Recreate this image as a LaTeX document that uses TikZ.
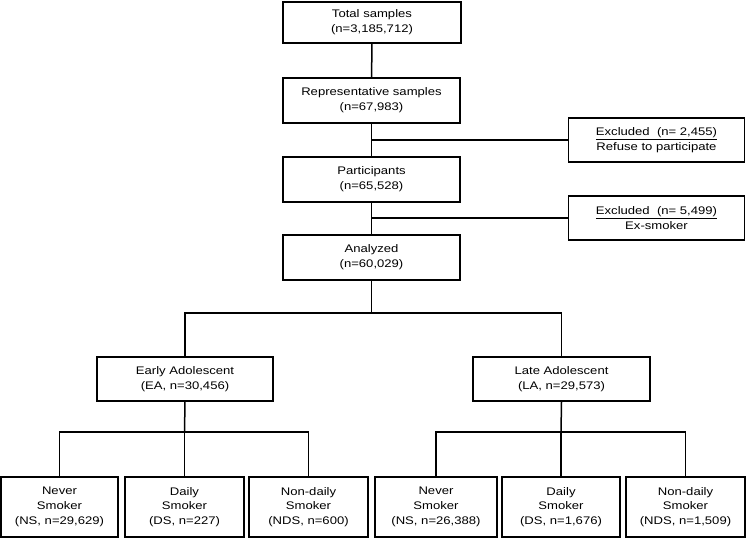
\documentclass[tikz,border=0pt]{standalone}
\usepackage{fontspec}
\setmainfont{Liberation Sans}[FakeStretch=1.19]
\usepackage{tikz}

\begin{document}
\begin{tikzpicture}[x=1pt,y=-1pt,line width=1.5pt,
   blk/.style n args={2}{draw,rectangle,align=center,inner sep=1pt,minimum width=#1pt,minimum height=#2pt,font=\fontsize{11}{14.8}\selectfont}]
\useasboundingbox (0,0) rectangle (746,538);
% main column
\node[blk={178}{41}] (total) at (372,22.5) {Total samples\\(n=3,185,712)};
\node[blk={177}{45}] (rep) at (371.5,100.5) {Representative samples\\(n=67,983)};
\node[blk={177}{45}] (part) at (371.5,179.5) {Participants\\(n=65,528)};
\node[blk={177}{45}] (anal) at (371.5,257.5) {Analyzed\\(n=60,029)};
% exclusions
\node[blk={176}{44}] (exc1) at (656.5,140) {\underline{Excluded\ \ (n= 2,455)}\\Refuse to participate};
\node[blk={176}{44}] (exc2) at (656.5,218) {\underline{Excluded\ \ (n= 5,499)}\\Ex-smoker};
% age groups
\node[blk={176}{44}] (ea) at (185,379) {Early Adolescent\\(EA, n=30,456)};
\node[blk={177}{44}] (la) at (561.5,379) {Late Adolescent\\(LA, n=29,573)};
% smoking status
\foreach \n/\x/\w/\t in %
{ns1/59.5/117/{Never\\Smoker\\(NS, n=29,629)},ds1/184.5/119/{Daily\\Smoker\\(DS, n=227)},
 nds1/308.5/119/{Non-daily\\Smoker\\(NDS, n=600)},ns2/436/122/{Never\\Smoker\\(NS, n=26,388)},
 ds2/561/118/{Daily\\Smoker\\(DS, n=1,676)},nds2/685.5/119/{Non-daily\\Smoker\\(NDS, n=1,509)}} {
   \node[blk={\w}{60}] (\n) at (\x,507) {\t};
}
\coordinate (split) at (371.5,313);
\coordinate (easplit) at (184.5,432);
\coordinate (lasplit) at (561,432);

\draw (total) -- (rep);
\draw (rep) -- (part);
\draw (part) -- (anal);
\draw (rep.south |- exc1.west) -- (exc1.west);
\draw (part.south |- exc2.west) -- (exc2.west);
\draw (anal) -- (split);
\draw (ea.north) |- (split) -| (la.north);
\draw (ea.south) -- (easplit);
\draw (ns1.north) |- (easplit) -| (nds1.north);
\draw (easplit) -- (ds1.north);
\draw (la.south) -- (lasplit);
\draw (ns2.north) |- (lasplit) -| (nds2.north);
\draw (lasplit) -- (ds2.north);
\end{tikzpicture}
\end{document}
